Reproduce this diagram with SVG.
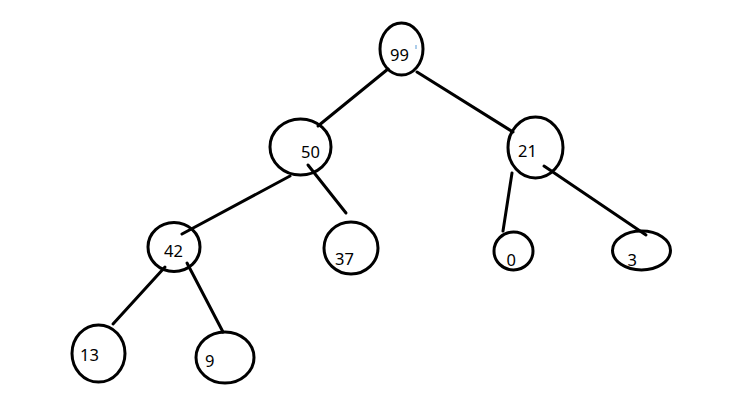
<svg xmlns="http://www.w3.org/2000/svg" width="750" height="404" viewBox="0 0 750 404">
<style>
.n{fill:none;stroke:#000;stroke-width:3}
.e{stroke:#000;stroke-width:3;stroke-linecap:round;fill:none}
text{font-family:"Noto Sans","Open Sans",sans-serif;font-size:16.5px;fill:#000}
</style>
<rect width="750" height="404" fill="#fff"/>
<g id="connectors">
<line class="e" x1="388" y1="69" x2="318" y2="126"/>
<line class="e" x1="417" y1="72" x2="513" y2="132"/>
<line class="e" x1="290" y1="176" x2="182" y2="234"/>
<line class="e" x1="308" y1="165" x2="346" y2="213"/>
<line class="e" x1="512" y1="173" x2="503" y2="231"/>
<line class="e" x1="544" y1="166" x2="646" y2="235"/>
<line class="e" x1="165" y1="267" x2="113" y2="324"/>
<line class="e" x1="187" y1="263" x2="223" y2="332"/>
</g>
<g id="n99"><ellipse class="n" cx="401.5" cy="49" rx="21.5" ry="26"/><text x="390" y="61">99</text><line x1="416" y1="45" x2="416" y2="49" stroke="#5b9bd5" stroke-width="1"/></g>
<g id="n50"><ellipse class="n" cx="300.5" cy="147" rx="30.5" ry="28"/><text x="301" y="158">50</text></g>
<g id="n21"><ellipse class="n" cx="535.5" cy="147.5" rx="27.5" ry="30.5"/><text x="518" y="157">21</text></g>
<g id="n42"><ellipse class="n" cx="174" cy="247" rx="26" ry="24.5"/><text x="164" y="257">42</text></g>
<g id="n37"><ellipse class="n" cx="351" cy="248" rx="27" ry="26"/><text x="335" y="265">37</text></g>
<g id="n0"><ellipse class="n" cx="513.5" cy="251" rx="19.5" ry="19"/><text x="506.5" y="266">0</text></g>
<g id="n3"><ellipse class="n" cx="641.5" cy="250.5" rx="29" ry="19.5"/><text x="627.5" y="266">3</text></g>
<g id="n13"><ellipse class="n" cx="98.5" cy="353.5" rx="26.5" ry="28.5"/><text x="80" y="361">13</text></g>
<g id="n9"><ellipse class="n" cx="225" cy="357.5" rx="29" ry="25.5"/><text x="205" y="367">9</text></g>
</svg>
